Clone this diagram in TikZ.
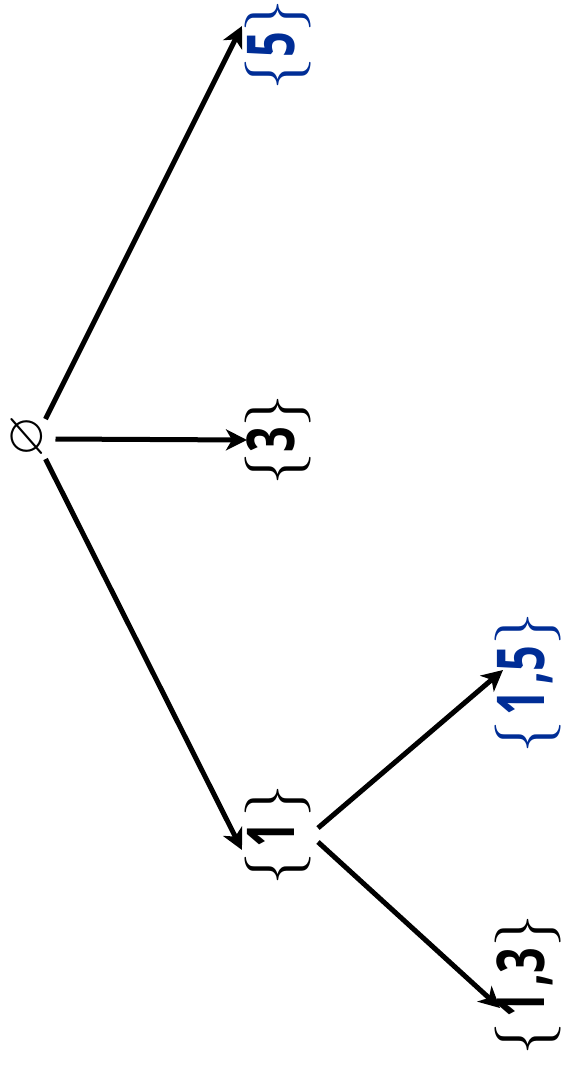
\documentclass[tikz,border=0pt]{standalone}
\usepackage{graphicx}
\usepackage{amssymb}
\usepackage{fontspec}
\newfontfamily\dig{Open Sans}
\usetikzlibrary{arrows.meta,calc}
\definecolor{setblue}{RGB}{0,45,150}
\tikzset{
  lbl/.style={rotate=90,inner sep=0pt,font=\fontsize{66}{70}\selectfont},
  arr/.style={line width=5pt,-{Stealth[length=21pt,width=21pt,inset=6pt]}},
}
\newcommand{\dd}[1]{\scalebox{0.68}[1]{\dig\bfseries\fontsize{66}{70}\selectfont #1}}
\newcommand{\gap}{\hspace{5pt}}
\begin{document}
\begin{tikzpicture}[x=1pt,y=1pt]
\useasboundingbox (0,0) rectangle (563,-1066);
\node[rotate=90,inner sep=0pt] (e) at (28.5,-436) {\scalebox{5.4}{$\varnothing$}};
\node[lbl,text=setblue] (n5) at (278,-45) {\{\dd{5}\}};
\node[lbl] (n3) at (278,-440) {\{\dd{3}\}};
\node[lbl] (n1) at (278,-835) {\{\gap\dd{1}\gap\}};
\node[lbl,text=setblue] (n15) at (528,-683) {\{\gap\dd{1}\gap\dd{,}\dd{5}\}};
\node[lbl] (n13) at (528,-985) {\{\gap\dd{1}\gap\dd{,}\dd{3}\}};
\draw[arr] ($(e)+(17,17)$) -- ($(n5)+(-36,19)$);
\draw[arr] ($(e)+(27,-3)$) -- ($(n3)+(-31,0)$);
\draw[arr] ($(e)+(17,-23)$) -- ($(n1)+(-36,-15)$);
\draw[arr] ($(n1)+(40,7)$) -- ($(n15)+(-25,13)$);
\draw[arr] ($(n1)+(40,-7)$) -- ($(n13)+(-28,-23)$);
\end{tikzpicture}
\end{document}
